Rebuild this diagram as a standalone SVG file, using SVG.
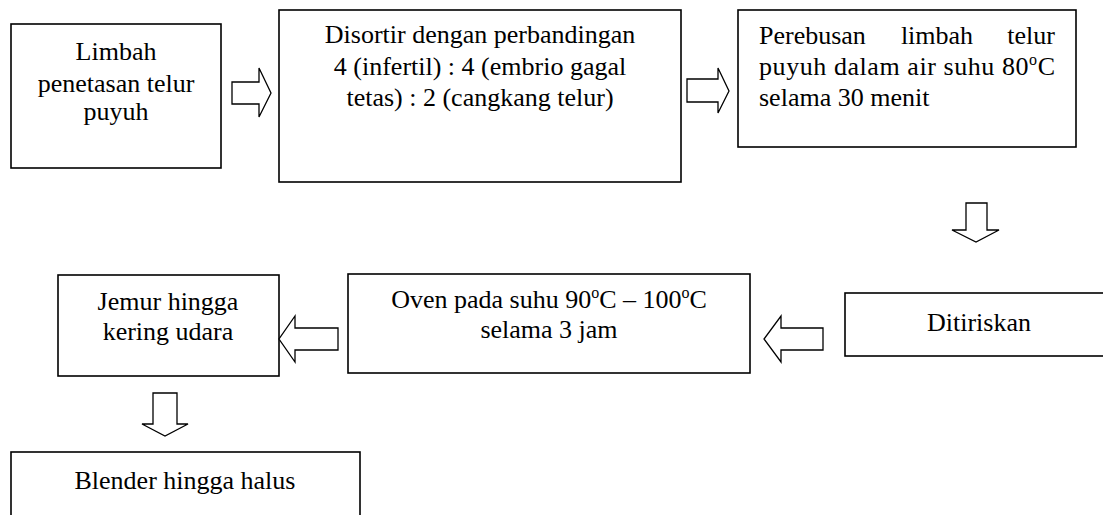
<svg xmlns="http://www.w3.org/2000/svg" width="1103" height="515" viewBox="0 0 1103 515">
<style>
.box{fill:#fff;stroke:#000;stroke-width:1.6}
.arr{fill:#fff;stroke:#000;stroke-width:1.3;stroke-linejoin:miter}
text{font-family:"Liberation Serif","Times New Roman",serif;font-size:26px;fill:#000}
.c{text-anchor:middle}
.sup{font-size:16px}
</style>
<rect width="1103" height="515" fill="#fff"/>
<g id="n1"><rect class="box" x="11" y="24" width="210" height="144"/>
<text class="c" x="116" y="60">Limbah</text>
<text class="c" x="116" y="92">penetasan telur</text>
<text class="c" x="116" y="120">puyuh</text></g>
<g id="n2"><rect class="box" x="279" y="10" width="402" height="172"/>
<text class="c" x="480" y="43">Disortir dengan perbandingan</text>
<text class="c" x="480" y="75">4 (infertil) : 4 (embrio gagal</text>
<text class="c" x="480" y="106">tetas) : 2 (cangkang telur)</text></g>
<g id="n3"><rect class="box" x="738" y="10" width="338" height="137"/>
<text x="759" y="44">Perebusan</text>
<text class="c" x="937" y="44">limbah</text>
<text x="1055" y="44" text-anchor="end">telur</text>
<text x="759" y="75" textLength="296" lengthAdjust="spacing">puyuh dalam air suhu 80<tspan class="sup" dy="-10">o</tspan><tspan dy="10">C</tspan></text>
<text x="759" y="106">selama 30 menit</text></g>
<g id="n4"><rect class="box" x="845" y="293" width="270" height="63"/>
<text class="c" x="979" y="331">Ditiriskan</text></g>
<g id="n5"><rect class="box" x="348" y="274" width="402" height="99"/>
<text class="c" x="549" y="308">Oven pada suhu 90<tspan class="sup" dy="-10">o</tspan><tspan dy="10">C – 100</tspan><tspan class="sup" dy="-10">o</tspan><tspan dy="10">C</tspan></text>
<text class="c" x="549" y="338">selama 3 jam</text></g>
<g id="n6"><rect class="box" x="58" y="275" width="221" height="101"/>
<text class="c" x="168" y="310">Jemur hingga</text>
<text class="c" x="168" y="340">kering udara</text></g>
<g id="n7"><rect class="box" x="11" y="452" width="349" height="80"/>
<text class="c" x="185" y="489">Blender hingga halus</text></g>
<g id="connectors">
<path class="arr" d="M232 82 H259 V68 L271 93 L259 117 V104 H232 Z"/>
<path class="arr" d="M687 79 H718 V68 L729 91 L718 113 V102 H687 Z"/>
<path class="arr" d="M966 203 H987 V230 H999 L976 242 L952 230 H966 Z"/>
<path class="arr" d="M823 328 V350 H781 V362 L764 339 L781 316 V328 Z"/>
<path class="arr" d="M338 328 V350 H295 V362 L279 339 L295 316 V328 Z"/>
<path class="arr" d="M153 393 H177 V424 H188 L165 436 L142 424 H153 Z"/>
</g>
</svg>
